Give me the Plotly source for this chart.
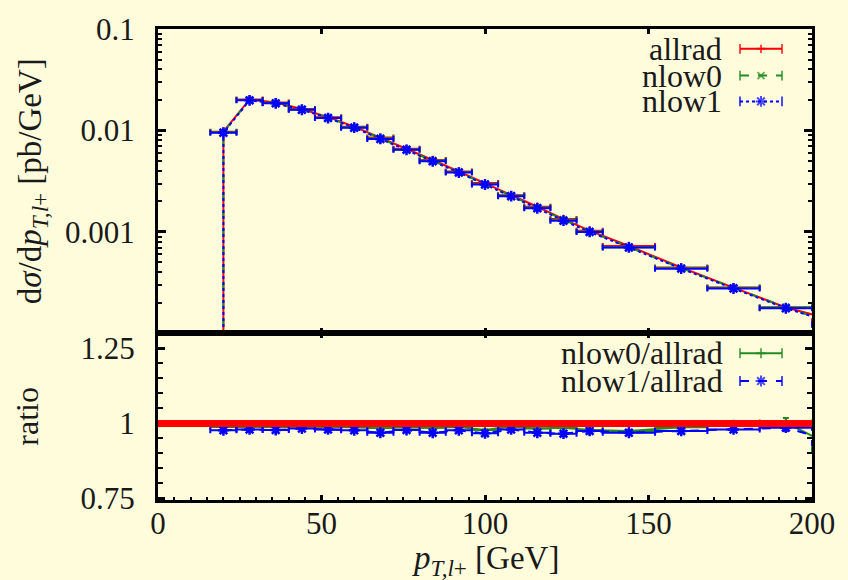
import plotly.graph_objects as go

# ---------------- data ----------------
bin_edges = [16, 24, 32, 40, 48, 56, 64, 72, 80, 88, 96, 104, 112, 120, 128, 136,
             152, 168, 184, 200, 216]

allrad = [0.00973, 0.0202, 0.0189, 0.0163, 0.01352, 0.0109, 0.00851, 0.00659, 0.00512,
          0.00394, 0.00303, 0.00230, 0.00177, 0.00134, 0.00103, 0.000726, 0.000446,
          0.000283, 0.000180, 0.000132]
nlow0 = [0.00961, 0.0200, 0.0187, 0.0161, 0.01337, 0.01077, 0.00838, 0.00650, 0.00505,
         0.00389, 0.00296, 0.00228, 0.00174, 0.00132, 0.00101, 0.000708, 0.000440,
         0.000282, 0.000181, 0.000121]
nlow1 = [0.00951, 0.0198, 0.0185, 0.0160, 0.01325, 0.01065, 0.00825, 0.00645, 0.00496,
         0.00385, 0.00293, 0.00225, 0.00171, 0.00129, 0.00100, 0.000703, 0.000435,
         0.000277, 0.000177, 0.000123]

ratio0 = [0.988, 0.989, 0.988, 0.990, 0.989, 0.988, 0.985, 0.987, 0.986, 0.988, 0.978,
          0.990, 0.983, 0.986, 0.978, 0.975, 0.987, 0.996, 1.003, 0.914]
ratio0_err = [0.002, 0.002, 0.002, 0.002, 0.002, 0.002, 0.002, 0.002, 0.002, 0.002, 0.002,
              0.002, 0.002, 0.003, 0.003, 0.003, 0.004, 0.005, 0.015, 0.01]
ratio1 = [0.977, 0.980, 0.978, 0.983, 0.980, 0.977, 0.969, 0.978, 0.969, 0.977, 0.967,
          0.980, 0.969, 0.966, 0.975, 0.969, 0.975, 0.980, 0.986, 0.935]
ratio1_err = [0.002, 0.002, 0.002, 0.002, 0.002, 0.002, 0.002, 0.002, 0.002, 0.002, 0.003,
              0.003, 0.003, 0.003, 0.003, 0.004, 0.006, 0.006, 0.010, 0.01]

x_ticks = [0, 50, 100, 150, 200]
y_ticks = [0.001, 0.01, 0.1]
y_ticklabels = ["0.001", "0.01", "0.1"]
r_ticks = [0.75, 1, 1.25]
r_ticklabels = ["0.75", "1", "1.25"]

series_names = ["allrad", "nlow0", "nlow1"]
ratio_names = ["nlow0/allrad", "nlow1/allrad"]

# ---------------- derived ----------------
centers = [(a + b) / 2 for a, b in zip(bin_edges[:-1], bin_edges[1:])]
halfw = [(b - a) / 2 for a, b in zip(bin_edges[:-1], bin_edges[1:])]

YLOG = [-4, -1]
RRANGE = [0.745, 1.3]
floor_val = 10 ** (YLOG[0] - 1)   # empty underflow bin drawn at the log floor

BG = "#fffcdc"
RED = "#ff0000"
GREEN = "#228b22"
BLUE = "#0000ff"
FONT = "Liberation Serif"
TXT = "#1a1a1a"

W, H = 848, 580
L, R, T, B = 158, 36, 25, 80
split_px = 332
plot_h = H - T - B
split = 1 - (split_px - T) / plot_h

fig = go.Figure()

styles = [
    dict(color=RED, dash="solid", sym="cross-thin-open", size=6, lw=2),
    dict(color=GREEN, dash="dash", sym="x-thin-open", size=7, lw=2),
    dict(color=BLUE, dash="dot", sym="asterisk-open", size=9, lw=2.5),
]

# top panel: lines (incl. drop to the empty underflow bin), then markers + x errors
for name, vals, st in zip(series_names, [allrad, nlow0, nlow1], styles):
    fig.add_trace(go.Scatter(
        x=[centers[0]] + centers, y=[floor_val] + vals, mode="lines",
        line=dict(color=st["color"], dash=st["dash"], width=2),
        xaxis="x", yaxis="y", showlegend=False, hoverinfo="skip"))
for name, vals, st in zip(series_names, [allrad, nlow0, nlow1], styles):
    fig.add_trace(go.Scatter(
        x=centers, y=vals, mode="markers", name=name,
        marker=dict(symbol=st["sym"], size=st["size"], color=st["color"],
                    line=dict(color=st["color"], width=st["lw"])),
        error_x=dict(type="data", array=halfw, color=st["color"], thickness=2, width=3),
        xaxis="x", yaxis="y", showlegend=False))

# ratio panel
rstyles = [
    dict(color=GREEN, dash="solid", sym="cross-thin-open", size=7, lw=2),
    dict(color=BLUE, dash="dash", sym="asterisk-open", size=9, lw=2.5),
]
for name, vals, errs, st in zip(ratio_names, [ratio0, ratio1], [ratio0_err, ratio1_err], rstyles):
    fig.add_trace(go.Scatter(
        x=centers, y=vals, mode="lines+markers", name=name,
        line=dict(color=st["color"], dash=st["dash"], width=2),
        marker=dict(symbol=st["sym"], size=st["size"], color=st["color"],
                    line=dict(color=st["color"], width=st["lw"])),
        error_x=dict(type="data", array=halfw, color=st["color"], thickness=2, width=3),
        error_y=dict(type="data", array=errs, color=st["color"], thickness=2, width=3),
        xaxis="x2", yaxis="y2", showlegend=False))

# reference line allrad/allrad = 1
fig.add_shape(type="line", xref="x2 domain", yref="y2", x0=0, x1=1, y0=1, y1=1,
              line=dict(color=RED, width=7), layer="above")

# ---------------- gnuplot-style keys (pixel overlay axis) ----------------
def key_sample(y, st, mid_sym, mid_size):
    fig.add_trace(go.Scatter(
        x=[740, 761, 782], y=[y, y, y], mode="lines+markers",
        line=dict(color=st["color"], dash=st["dash"], width=2),
        marker=dict(symbol=["line-ns-open", mid_sym, "line-ns-open"],
                    size=[7, mid_size, 7], color=st["color"],
                    line=dict(color=st["color"], width=2)),
        xaxis="x3", yaxis="y3", showlegend=False, hoverinfo="skip"))

key_rows = [45, 72, 98]
for name, st, yy in zip(series_names, styles, key_rows):
    key_sample(yy, st, st["sym"], st["size"])
    fig.add_annotation(x=724, y=yy, xref="x3", yref="y3", text=name, showarrow=False,
                       xanchor="right", yanchor="middle",
                       font=dict(family=FONT, size=32, color=TXT))
rkey_rows = [352, 380]
for name, st, yy in zip(ratio_names, rstyles, rkey_rows):
    key_sample(yy, st, st["sym"], st["size"])
    fig.add_annotation(x=725, y=yy, xref="x3", yref="y3", text=name, showarrow=False,
                       xanchor="right", yanchor="middle",
                       font=dict(family=FONT, size=32, color=TXT))

# axis titles
fig.add_annotation(xref="paper", yref="paper", x=0, y=(split + 1) / 2, xshift=32 - L,
                   text="d<i>σ</i>/d<i>p</i><sub><i>T,l</i>+</sub> [pb/GeV]",
                   textangle=-90, showarrow=False, xanchor="center", yanchor="middle",
                   font=dict(family=FONT, size=33, color=TXT))
fig.add_annotation(xref="paper", yref="paper", x=0, y=split / 2, xshift=27 - L,
                   text="ratio", textangle=-90, showarrow=False,
                   xanchor="center", yanchor="middle",
                   font=dict(family=FONT, size=32, color=TXT))
fig.add_annotation(xref="paper", yref="paper", x=0.5, y=1 - (561 - T) / plot_h,
                   text="<i>p</i><sub><i>T,l</i>+</sub> [GeV]", showarrow=False,
                   xanchor="center", yanchor="middle",
                   font=dict(family=FONT, size=33, color=TXT))

log_minor = [k * 10 ** e for e in range(-4, -1) for k in range(2, 10)]

axis_common = dict(showline=True, linecolor="black", linewidth=3, mirror="allticks",
                   ticks="inside", tickcolor="black", showgrid=False, zeroline=False,
                   tickfont=dict(family=FONT, size=31, color=TXT))

fig.update_layout(
    width=W, height=H,
    margin=dict(l=L, r=R, t=T, b=B, pad=0),
    paper_bgcolor=BG, plot_bgcolor="rgba(0,0,0,0)",
    font=dict(family=FONT, color=TXT),
    showlegend=False,
    xaxis=dict(domain=[0, 1], range=[0, 200], anchor="y", tickvals=x_ticks,
               showticklabels=False, ticklen=5, tickwidth=3, **axis_common),
    yaxis=dict(domain=[split, 1], type="log", range=YLOG, anchor="x",
               tickvals=y_ticks, ticktext=y_ticklabels, ticklen=8, tickwidth=3,
               ticklabelstandoff=14,
               minor=dict(tickvals=log_minor, ticks="inside", ticklen=4, tickwidth=2,
                          tickcolor="black", showgrid=False),
               **axis_common),
    xaxis2=dict(domain=[0, 1], range=[0, 200], anchor="y2", tickvals=x_ticks,
                ticktext=[str(v) for v in x_ticks], ticklen=5, tickwidth=3,
                ticklabelstandoff=-6,
                minor=dict(tickmode="linear", tick0=0, dtick=5, ticks="inside",
                           ticklen=3, tickwidth=2, tickcolor="black", showgrid=False),
                **axis_common),
    yaxis2=dict(domain=[0, split], range=RRANGE, anchor="x2",
                tickvals=r_ticks, ticktext=r_ticklabels, ticklen=7, tickwidth=3,
                ticklabelstandoff=14,
                minor=dict(tickmode="linear", tick0=0.75, dtick=0.05, ticks="inside",
                           ticklen=5, tickwidth=2, tickcolor="black", showgrid=False),
                **axis_common),
    xaxis3=dict(domain=[0, 1], range=[L, W - R], anchor="y3", visible=False,
                fixedrange=True),
    yaxis3=dict(domain=[0, 1], range=[H - B, T], anchor="x3", visible=False,
                fixedrange=True),
)

fig.write_html(
    "out.html",
    config={"displayModeBar": False},
    post_script=("document.body.style.margin='0';"
                 "document.body.style.overflow='hidden';"
                 "document.body.style.background='" + BG + "';"),
)
